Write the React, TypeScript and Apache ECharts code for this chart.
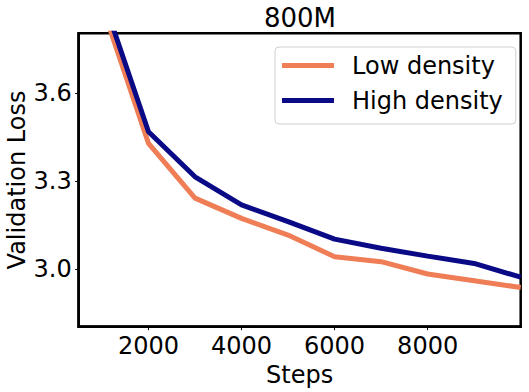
import React, { useEffect, useRef } from "react";
import * as echarts from "echarts";

const steps = [1000, 2000, 3000, 4000, 5000, 6000, 7000, 8000, 9000, 10000];
const lowDensity = [3.9, 3.429, 3.242, 3.173, 3.116, 3.042, 3.025, 2.983, 2.96, 2.937];
const highDensity = [3.935, 3.469, 3.315, 3.219, 3.162, 3.102, 3.071, 3.044, 3.019, 2.972];
const xTicks = [2000, 4000, 6000, 8000];
const yTicks = [3.0, 3.3, 3.6];
const seriesNames = ["Low density", "High density"];

const FONT = "DejaVu Sans";

export default function App() {
  const ref = useRef<HTMLDivElement>(null);
  useEffect(() => {
    if (!ref.current) return;
    const chart = echarts.init(ref.current, null, { renderer: "svg" });
    chart.setOption({
      animation: false,
      backgroundColor: "#ffffff",
      title: {
        text: "800M",
        left: 300,
        textAlign: "center",
        top: 5,
        padding: 0,
        textStyle: { fontFamily: FONT, fontSize: 26, fontWeight: "normal", color: "#000" },
      },
      legend: {
        orient: "vertical",
        left: 275,
        top: 47,
        padding: [5, 13, 10, 7],
        itemGap: 8,
        itemWidth: 52,
        itemHeight: 5,
        icon: "rect",
        borderColor: "#d0d0d0",
        borderWidth: 1,
        borderRadius: 4,
        backgroundColor: "rgba(255,255,255,0.8)",
        textStyle: {
          fontFamily: FONT,
          fontSize: 24,
          color: "#000",
          lineHeight: 27,
          padding: [0, 0, 0, 13],
        },
        data: seriesNames,
      },
      grid: {
        left: 78.7,
        right: 8.3,
        top: 33.3,
        bottom: 65.3,
        outerBoundsMode: "none",
        containLabel: false,
        show: true,
        borderColor: "#000",
        borderWidth: 2.5,
        backgroundColor: "transparent",
      },
      xAxis: {
        type: "value",
        min: 500,
        max: 10000,
        name: "Steps",
        nameLocation: "middle",
        nameGap: 33,
        nameTextStyle: { fontFamily: FONT, fontSize: 24, color: "#000" },
        axisLine: { show: true, lineStyle: { color: "#000", width: 2.5 } },
        axisTick: {
          show: true,
          length: 3.5,
          lineStyle: { color: "#000", width: 1 },
          customValues: xTicks,
        },
        axisLabel: {
          fontFamily: FONT,
          fontSize: 24,
          color: "#000",
          margin: 7,
          customValues: xTicks,
          formatter: (v: number) => String(v),
        },
        splitLine: { show: false },
      },
      yAxis: {
        type: "value",
        min: 2.803,
        max: 3.805,
        name: "Validation Loss",
        nameLocation: "middle",
        nameGap: 50,
        nameMoveOverlap: false,
        nameTextStyle: { fontFamily: FONT, fontSize: 24, color: "#000" },
        axisLine: { show: true, lineStyle: { color: "#000", width: 2.5 } },
        axisTick: {
          show: true,
          length: 3.5,
          lineStyle: { color: "#000", width: 1 },
          customValues: yTicks,
        },
        axisLabel: {
          fontFamily: FONT,
          fontSize: 24,
          color: "#000",
          margin: 7,
          customValues: yTicks,
          formatter: (v: number) => v.toFixed(1),
        },
        splitLine: { show: false },
      },
      series: [
        {
          name: seriesNames[0],
          type: "line",
          data: steps.map((s, i) => [s, lowDensity[i]]),
          showSymbol: false,
          clip: true,
          lineStyle: { color: "#EF7D56", width: 5 },
          itemStyle: { color: "#EF7D56" },
        },
        {
          name: seriesNames[1],
          type: "line",
          data: steps.map((s, i) => [s, highDensity[i]]),
          showSymbol: false,
          clip: true,
          lineStyle: { color: "#0A0A87", width: 5 },
          itemStyle: { color: "#0A0A87" },
        },
      ],
    });
    return () => chart.dispose();
  }, []);
  return (
    <div
      ref={ref}
      style={{ position: "fixed", left: 0, top: 0, width: 529, height: 392 }}
    />
  );
}
